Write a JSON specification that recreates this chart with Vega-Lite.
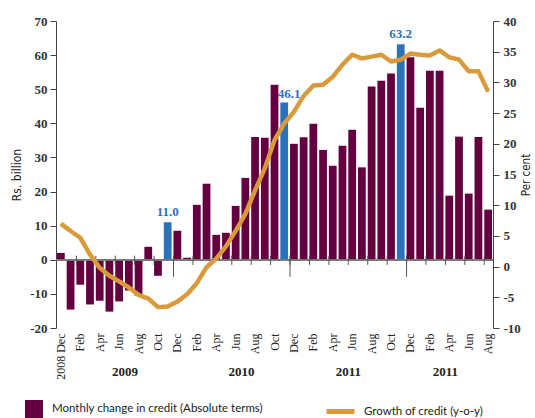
{
  "$schema": "https://vega.github.io/schema/vega-lite/v6.json",
  "width": 437,
  "height": 307,
  "autosize": {"type": "none"},
  "padding": {"left": 56, "top": 21, "right": 42, "bottom": 90},
  "background": "white",
  "config": {"view": {"stroke": null}, "axis": {"grid": false}},
  "datasets": {
    "monthly": [
      {"month": "2008-12", "credit": 2.0, "growth": 7.0},
      {"month": "2009-01", "credit": -14.6, "growth": 5.8},
      {"month": "2009-02", "credit": -7.3, "growth": 4.7},
      {"month": "2009-03", "credit": -13.1, "growth": 2.0},
      {"month": "2009-04", "credit": -12.0, "growth": -0.2},
      {"month": "2009-05", "credit": -15.2, "growth": -1.5},
      {"month": "2009-06", "credit": -12.2, "growth": -2.4},
      {"month": "2009-07", "credit": -9.0, "growth": -3.4},
      {"month": "2009-08", "credit": -10.5, "growth": -4.6},
      {"month": "2009-09", "credit": 3.8, "growth": -5.2},
      {"month": "2009-10", "credit": -4.7, "growth": -6.6},
      {"month": "2009-11", "credit": 11.0, "growth": -6.5, "label": "11.0"},
      {"month": "2009-12", "credit": 8.5, "growth": -5.7},
      {"month": "2010-01", "credit": 0.6, "growth": -4.5},
      {"month": "2010-02", "credit": 16.1, "growth": -2.7},
      {"month": "2010-03", "credit": 22.3, "growth": -0.1},
      {"month": "2010-04", "credit": 7.3, "growth": 1.3},
      {"month": "2010-05", "credit": 7.9, "growth": 3.3},
      {"month": "2010-06", "credit": 15.8, "growth": 5.8},
      {"month": "2010-07", "credit": 24.0, "growth": 8.6},
      {"month": "2010-08", "credit": 36.0, "growth": 12.4},
      {"month": "2010-09", "credit": 35.8, "growth": 16.0},
      {"month": "2010-10", "credit": 51.3, "growth": 20.6},
      {"month": "2010-11", "credit": 46.1, "growth": 23.3, "label": "46.1"},
      {"month": "2010-12", "credit": 34.0, "growth": 25.2},
      {"month": "2011-01", "credit": 35.9, "growth": 27.8},
      {"month": "2011-02", "credit": 39.9, "growth": 29.5},
      {"month": "2011-03", "credit": 32.2, "growth": 29.6},
      {"month": "2011-04", "credit": 27.6, "growth": 30.9},
      {"month": "2011-05", "credit": 33.4, "growth": 32.9},
      {"month": "2011-06", "credit": 38.1, "growth": 34.5},
      {"month": "2011-07", "credit": 27.1, "growth": 33.9},
      {"month": "2011-08", "credit": 50.8, "growth": 34.2},
      {"month": "2011-09", "credit": 52.5, "growth": 34.5},
      {"month": "2011-10", "credit": 54.6, "growth": 33.4},
      {"month": "2011-11", "credit": 63.2, "growth": 33.7, "label": "63.2"},
      {"month": "2011-12", "credit": 59.4, "growth": 34.7},
      {"month": "2012-01", "credit": 44.6, "growth": 34.5},
      {"month": "2012-02", "credit": 55.4, "growth": 34.4},
      {"month": "2012-03", "credit": 55.4, "growth": 35.2},
      {"month": "2012-04", "credit": 18.8, "growth": 34.1},
      {"month": "2012-05", "credit": 36.1, "growth": 33.7},
      {"month": "2012-06", "credit": 19.4, "growth": 31.8},
      {"month": "2012-07", "credit": 36.0, "growth": 31.8},
      {"month": "2012-08", "credit": 14.7, "growth": 28.5}
    ],
    "years": [
      {"month": "2009-07", "year": "2009"},
      {"month": "2010-07", "year": "2010"},
      {"month": "2011-06", "year": "2011"},
      {"month": "2012-04", "year": "2011"}
    ]
  },
  "data": {"name": "monthly"},
  "layer": [
    {
      "mark": {"type": "bar"},
      "encoding": {
        "x": {
          "field": "month",
          "type": "ordinal",
          "title": null,
          "scale": {"paddingInner": 0.2, "paddingOuter": 0.1},
          "axis": {
            "bandPosition": 0,
            "domain": false,
            "ticks": false,
            "labelAngle": 270,
            "labelPadding": 5,
            "labelFont": "Liberation Serif",
            "labelFontSize": 12,
            "labelColor": "#222",
            "labelOverlap": false,
            "values": ["2008-12", "2009-02", "2009-04", "2009-06", "2009-08", "2009-10", "2009-12", "2010-02", "2010-04", "2010-06", "2010-08", "2010-10", "2010-12", "2011-02", "2011-04", "2011-06", "2011-08", "2011-10", "2011-12", "2012-02", "2012-04", "2012-06", "2012-08"],
            "labelExpr": "datum.value == '2008-12' ? '2008 Dec' : ['Jan','Feb','Mar','Apr','May','Jun','Jul','Aug','Sep','Oct','Nov','Dec'][toNumber(slice(datum.value, 5)) - 1]"
          }
        },
        "y": {
          "field": "credit",
          "type": "quantitative",
          "title": "Rs. billion",
          "scale": {"domain": [-20, 70], "nice": false, "zero": false},
          "axis": {
            "orient": "left",
            "values": [-20, -10, 0, 10, 20, 30, 40, 50, 60, 70],
            "labelExpr": "replace(datum.label, '\u2212', '-')",
            "labelOverlap": false,
            "domainColor": "#444",
            "tickColor": "#444",
            "tickSize": 6,
            "labelPadding": 3,
            "labelFont": "Liberation Serif",
            "labelFontWeight": "bold",
            "labelFontSize": 13,
            "labelColor": "#333",
            "titleFont": "DejaVu Sans Condensed",
            "titleFontSize": 12,
            "titleFontWeight": "normal",
            "titleColor": "#222",
            "titlePadding": 6
          }
        },
        "fill": {
          "condition": {"test": "isValid(datum.label)", "value": "#2b72b8"},
          "datum": "Monthly change in credit (Absolute terms)",
          "scale": {"range": ["#650040"]},
          "legend": {
            "orient": "none",
            "legendX": -31,
            "legendY": 379,
            "title": null,
            "padding": 0,
            "symbolType": "square",
            "symbolSize": 324,
            "symbolStrokeWidth": 0,
            "labelFont": "Lato",
            "labelFontSize": 11.5,
            "labelColor": "#222",
            "labelOffset": 9,
            "labelLimit": 400
          }
        }
      }
    },
    {
      "mark": {"type": "rule", "color": "#777", "strokeWidth": 1},
      "encoding": {"y": {"datum": 0, "scale": {"domain": [-20, 70], "nice": false, "zero": false}, "axis": null}}
    },
    {
      "transform": [{"filter": "indexof(['12','02','04','06','08','10'], slice(datum.month, 5)) >= 0 && datum.month != '2008-12'"}],
      "mark": {"type": "rule", "color": "#555", "strokeWidth": 1},
      "encoding": {
        "x": {"field": "month", "type": "ordinal", "bandPosition": 0, "title": null},
        "y": {"datum": 1.2, "scale": {"domain": [-20, 70], "nice": false, "zero": false}, "axis": null},
        "y2": {"datum": -1.5}
      }
    },
    {
      "transform": [{"filter": "slice(datum.month, 5) == '12' && datum.month != '2008-12'"}],
      "mark": {"type": "rule", "color": "#555", "strokeWidth": 1},
      "encoding": {
        "x": {"field": "month", "type": "ordinal", "bandPosition": 0, "title": null},
        "y": {"datum": 1.2, "scale": {"domain": [-20, 70], "nice": false, "zero": false}, "axis": null},
        "y2": {"datum": -5}
      }
    },
    {
      "transform": [{"filter": "isValid(datum.label) && datum.label != '46.1'"}],
      "mark": {"type": "text", "baseline": "bottom", "dy": -3, "font": "Liberation Serif", "fontWeight": "bold", "fontSize": 13, "color": "#2b72b8"},
      "encoding": {
        "x": {"field": "month", "type": "ordinal", "title": null},
        "y": {"field": "credit", "type": "quantitative", "scale": {"domain": [-20, 70], "nice": false, "zero": false}, "axis": null},
        "text": {"field": "label"}
      }
    },
    {
      "transform": [{"filter": "datum.label == '46.1'"}],
      "mark": {"type": "text", "baseline": "bottom", "dy": -2, "dx": 5, "font": "Liberation Serif", "fontWeight": "bold", "fontSize": 13, "color": "#2b72b8"},
      "encoding": {
        "x": {"field": "month", "type": "ordinal", "title": null},
        "y": {"field": "credit", "type": "quantitative", "scale": {"domain": [-20, 70], "nice": false, "zero": false}, "axis": null},
        "text": {"field": "label"}
      }
    },
    {
      "data": {"name": "years"},
      "mark": {"type": "text", "baseline": "middle", "font": "Liberation Serif", "fontWeight": "bold", "fontSize": 13, "color": "#222"},
      "encoding": {
        "x": {"field": "month", "type": "ordinal", "bandPosition": 0, "title": null},
        "y": {"datum": -32.8, "scale": {"domain": [-20, 70], "nice": false, "zero": false}, "axis": null},
        "text": {"field": "year"}
      }
    },
    {
      "mark": {"type": "line", "strokeWidth": 4.5, "strokeJoin": "round"},
      "encoding": {
        "x": {"field": "month", "type": "ordinal", "title": null},
        "y": {
          "field": "growth",
          "type": "quantitative",
          "title": "Per cent",
          "scale": {"domain": [-10, 40], "nice": false, "zero": false},
          "axis": {
            "orient": "right",
            "values": [-10, -5, 0, 5, 10, 15, 20, 25, 30, 35, 40],
            "labelExpr": "replace(datum.label, '\u2212', '-')",
            "labelOverlap": false,
            "domainColor": "#444",
            "tickColor": "#444",
            "tickSize": 6,
            "labelPadding": 4,
            "labelFont": "Liberation Serif",
            "labelFontWeight": "bold",
            "labelFontSize": 13,
            "labelColor": "#333",
            "titleAngle": 270,
            "titleBaseline": "top",
            "titleFont": "DejaVu Sans Condensed",
            "titleFontSize": 11.5,
            "titleFontWeight": "normal",
            "titleColor": "#222",
            "titlePadding": 0
          }
        },
        "stroke": {
          "datum": "Growth of credit (y-o-y)",
          "scale": {"range": ["#d99a3c"]},
          "legend": {
            "orient": "none",
            "legendX": 268,
            "legendY": 374,
            "title": null,
            "padding": 0,
            "symbolType": "stroke",
            "symbolSize": 784,
            "symbolStrokeWidth": 5,
            "labelFont": "Lato",
            "labelFontSize": 11.5,
            "labelColor": "#222",
            "labelOffset": 7,
            "labelLimit": 400
          }
        }
      }
    }
  ],
  "resolve": {"scale": {"y": "independent"}}
}
